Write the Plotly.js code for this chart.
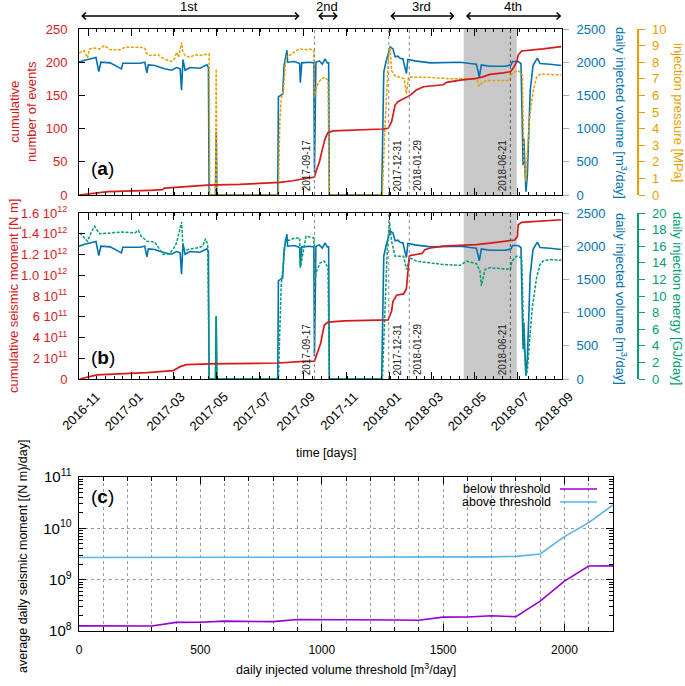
<!DOCTYPE html>
<html><head><meta charset="utf-8">
<script src="https://cdn.plot.ly/plotly-3.0.1.min.js"></script>
<style>html,body{margin:0;padding:0;background:#fff;}#chart{width:685px;height:686px;}</style>
</head><body><div id="chart"></div>
<script>
// ---------- data: daily injected volume [m3/day] ----------
const volDates = ['2016-10-19','2016-10-27','2016-11-12','2016-11-16','2016-11-19','2016-12-02','2016-12-18','2016-12-20','2017-01-13','2017-01-20','2017-01-23','2017-01-25','2017-02-03','2017-02-17','2017-02-27','2017-03-06','2017-03-11','2017-03-13','2017-03-15','2017-03-18','2017-03-25','2017-04-08','2017-04-18','2017-04-20','2017-04-21',
'2017-04-30','2017-05-01','2017-05-02',
'2017-07-27','2017-07-28','2017-08-03','2017-08-05','2017-08-09','2017-08-10','2017-08-20','2017-08-27','2017-08-28','2017-08-30','2017-09-10','2017-09-16','2017-09-17','2017-09-19','2017-09-24','2017-09-28','2017-10-02','2017-10-05','2017-10-07','2017-10-08',
'2017-12-21','2017-12-24','2017-12-27','2018-01-02','2018-01-06','2018-01-09','2018-01-13','2018-01-16','2018-01-20','2018-01-25','2018-01-27','2018-02-06','2018-02-28','2018-03-28','2018-04-11','2018-04-25','2018-05-04','2018-05-08','2018-05-11','2018-05-23','2018-06-14','2018-06-22','2018-06-24','2018-07-02','2018-07-06','2018-07-09','2018-07-10','2018-07-13','2018-07-15','2018-07-19','2018-07-23','2018-07-29','2018-08-02','2018-08-16','2018-09-01'];
const volValues = [2000,2030,2070,1860,2000,1990,1900,1985,1985,2000,1840,1960,1950,1900,1880,1920,1900,1580,2040,1880,1920,1910,1960,1920,0,
0,950,0,
0,1480,1520,1950,2180,2000,2010,1980,1690,1990,2000,1990,340,2000,2020,1970,2050,1990,1990,0,
0,1850,2000,2230,2200,2080,2090,2060,2050,1830,2040,2020,1990,1990,2000,1980,1970,1780,1960,1940,1940,1960,2010,2010,1980,450,850,50,300,1560,1950,2060,1980,1970,1950];

// ---------- injection pressure [MPa] ----------
const presDates = ['2016-10-19','2016-10-26','2016-10-31','2016-11-03','2016-11-10','2016-11-17','2016-11-24','2016-12-02','2016-12-16','2016-12-23','2017-01-13','2017-01-20','2017-01-22','2017-01-27','2017-02-08','2017-02-14','2017-02-22','2017-02-27','2017-03-03','2017-03-06','2017-03-09','2017-03-13','2017-03-15','2017-03-18','2017-03-25','2017-04-01','2017-04-08','2017-04-18','2017-04-21','2017-04-22',
'2017-04-30','2017-05-01','2017-05-02',
'2017-07-28','2017-07-30','2017-08-01','2017-08-04','2017-08-07','2017-08-09','2017-08-15','2017-08-22','2017-08-27','2017-09-05','2017-09-10','2017-09-16','2017-09-17','2017-09-20','2017-09-23','2017-09-27','2017-10-02','2017-10-06','2017-10-08',
'2017-12-22','2017-12-25','2017-12-28','2017-12-31','2018-01-02','2018-01-04','2018-01-08','2018-01-15','2018-01-22','2018-01-25','2018-01-28','2018-02-05','2018-02-20','2018-03-10','2018-03-30','2018-04-20','2018-05-05','2018-05-08','2018-05-12','2018-05-20','2018-06-05','2018-06-20','2018-06-23','2018-07-01','2018-07-05','2018-07-08','2018-07-10','2018-07-13','2018-07-15','2018-07-16','2018-07-18','2018-07-21','2018-07-24','2018-07-28','2018-08-03','2018-08-20','2018-09-01'];
const presValues = [8.55,8.7,8.25,8.8,8.85,8.8,9.0,8.75,8.75,8.9,8.9,8.85,8.55,8.4,8.45,8.25,8.1,8.05,8.2,8.6,8.3,9.2,8.6,8.4,8.3,8.45,8.4,8.5,8.5,0,
0,7.6,0,
0,4.5,5.8,6.3,8.0,8.4,8.45,8.7,8.8,8.75,8.8,8.7,5.9,6.5,6.8,7.0,7.1,6.9,0,
0,3.5,6.5,8.6,8.9,7.5,7.2,7.1,7.0,6.1,7.1,7.1,7.1,7.05,7.0,7.0,6.95,6.55,6.8,6.9,6.9,6.9,7.3,7.5,7.4,7.2,2.2,0.8,2.5,3.2,4.6,5.6,6.4,7.1,7.3,7.25,7.25];

// ---------- cumulative number of events ----------
const evtDates = ['2016-10-19','2016-11-03','2016-11-29','2017-01-27','2017-02-14','2017-02-17','2017-03-18','2017-04-19','2017-06-03','2017-07-16','2017-07-30','2017-08-17','2017-09-05','2017-09-17','2017-09-19','2017-09-24','2017-09-28','2017-10-02','2017-10-06','2017-10-13','2017-12-23','2017-12-30','2018-01-04','2018-01-09','2018-01-13','2018-01-25','2018-01-30','2018-02-08','2018-02-18','2018-03-18','2018-03-23','2018-04-11','2018-05-04','2018-05-13','2018-05-23','2018-06-11','2018-06-21','2018-06-25','2018-06-30','2018-07-02','2018-07-07','2018-08-06','2018-09-01'];
const evtValues = [0,2,5,7,8,10.5,13,15,16,18,19,21.5,25,27,35,50,68,85,94,96.5,99.4,100.4,110,135.5,140.5,148,150,158,163,166,169.7,173,175.7,178,181.7,184,185.7,190.7,200.8,210.8,216.9,220,223.4];

// ---------- daily injection energy [GJ/day] ----------
const enDates = ['2016-10-20','2016-10-31','2016-11-06','2016-11-10','2016-11-17','2016-11-29','2016-12-18','2017-01-06','2017-01-11','2017-01-15','2017-01-23','2017-02-03','2017-02-15','2017-02-24','2017-03-01','2017-03-06','2017-03-09','2017-03-13','2017-03-15','2017-03-18','2017-03-27','2017-04-05','2017-04-12','2017-04-16','2017-04-19','2017-04-21',
'2017-04-30','2017-05-01','2017-05-02',
'2017-07-28','2017-07-30','2017-08-01','2017-08-04','2017-08-07','2017-08-12','2017-08-20','2017-08-27','2017-08-28','2017-09-05','2017-09-16','2017-09-17','2017-09-20','2017-09-25','2017-10-01','2017-10-06','2017-10-08',
'2017-12-22','2017-12-26','2017-12-29','2018-01-01','2018-01-04','2018-01-09','2018-01-21','2018-01-25','2018-01-30','2018-02-08','2018-02-28','2018-03-18','2018-04-11','2018-04-20','2018-05-04','2018-05-09','2018-05-11','2018-05-16','2018-05-23','2018-06-21','2018-06-23','2018-06-30','2018-07-07','2018-07-10','2018-07-13','2018-07-15','2018-07-18','2018-07-22','2018-07-28','2018-08-02','2018-08-06','2018-08-16','2018-09-01'];
const enValues = [17.6,16.6,17.8,18.4,17.5,17.6,17.7,17.6,17.9,17.2,16.6,16.5,15.0,15.1,15.6,16.4,17.5,18.9,15.9,15.5,15.7,15.8,16.0,16.9,16.2,0,
0,7.5,0,
0,6.0,11.4,13.8,16.8,16.7,17.0,17.0,13.4,17.2,17.0,11.8,13.0,14.0,14.2,13.4,0,
0,8.6,15.8,19.0,16.6,14.8,14.8,13.2,14.6,14.2,14.0,13.8,13.7,14.2,13.9,13.0,11.2,13.2,13.4,13.2,14.2,14.8,14.6,4.5,0.5,1.0,4.5,8.6,12.2,13.8,14.2,14.4,14.3];

// ---------- cumulative seismic moment [N m] ----------
const momDates = ['2016-10-20','2016-11-13','2017-01-23','2017-02-15','2017-03-01','2017-03-11','2017-03-20','2017-04-22','2017-07-28','2017-08-27','2017-09-17','2017-09-21','2017-09-26','2017-09-28','2017-10-01','2017-10-06','2017-10-30','2017-12-30','2018-01-04','2018-01-06','2018-01-11','2018-01-21','2018-01-25','2018-01-29','2018-01-30','2018-02-08','2018-02-16','2018-02-20','2018-02-28','2018-03-18','2018-05-04','2018-05-23','2018-06-21','2018-06-27','2018-07-01','2018-07-02','2018-07-07','2018-08-06','2018-09-01'];
const momValues = [0,0.39e11,0.61e11,0.75e11,0.8e11,1.19e11,1.38e11,1.45e11,1.54e11,1.67e11,1.73e11,2.5e11,3.5e11,4.27e11,5.2e11,5.49e11,5.6e11,5.69e11,6.52e11,7.49e11,8.07e11,8.2e11,8.7e11,1.183e12,1.19e12,1.2e12,1.21e12,1.246e12,1.263e12,1.28e12,1.295e12,1.31e12,1.333e12,1.34e12,1.375e12,1.487e12,1.51e12,1.52e12,1.535e12];
const momTickVals = [0,2e11,4e11,6e11,8e11,1e12,1.2e12,1.4e12,1.6e12];
const momTickText = ['0','2 10<sup>11</sup>','4 10<sup>11</sup>','6 10<sup>11</sup>','8 10<sup>11</sup>','1.0 10<sup>12</sup>','1.2 10<sup>12</sup>','1.4 10<sup>12</sup>','1.6 10<sup>12</sup>'];

// ---------- panel (c) ----------
const thr = [0,100,200,300,400,500,600,700,800,900,1000,1100,1200,1300,1400,1500,1600,1700,1800,1900,2000,2100,2200];
const below = [1.26e8,1.26e8,1.25e8,1.25e8,1.47e8,1.48e8,1.56e8,1.55e8,1.52e8,1.68e8,1.68e8,1.66e8,1.65e8,1.64e8,1.62e8,1.86e8,1.87e8,1.98e8,1.9e8,3.83e8,9.4e8,1.84e9,1.86e9];
const above = [2.70e9,2.70e9,2.70e9,2.70e9,2.70e9,2.70e9,2.70e9,2.70e9,2.70e9,2.70e9,2.70e9,2.72e9,2.72e9,2.72e9,2.72e9,2.75e9,2.77e9,2.78e9,2.84e9,3.16e9,6.9e9,1.29e10,2.85e10];
const seriesNames = ['below threshold','above threshold'];

// ---------- annotations data ----------
const periodLabels = ['1st','2nd','3rd','4th'];
const periodStart = ['2016-10-20','2017-09-20','2017-12-31','2018-04-17'];
const periodEnd = ['2017-08-27','2017-10-20','2018-04-03','2018-09-01'];
const markDates = ['2017-09-17','2017-12-31','2018-01-29','2018-06-21'];
const markSide = ['left','right','right','left'];
const shadeStart = '2018-04-16', shadeEnd = '2018-06-30';

// ---------- styling ----------
const FONT = 'Liberation Sans, Arial, Helvetica, sans-serif';
const RED = '#D7191C', BLUE = '#0072B2', ORANGE = '#E69F00', GREEN = '#009E73', PURPLE = '#9400D3', SKY = '#56B4E9';
const L = 79, R = 637, T = 29, B = 631;
const px = x => (x - L) / (R - L);
const py = y => (B - y) / (B - T);
const dayMs = 86400000;

const traces = [
  {x: volDates, y: volValues, xaxis: 'x2', yaxis: 'y', mode: 'lines', line: {color: BLUE, width: 1.6}},
  {x: presDates, y: presValues, xaxis: 'x2', yaxis: 'y2', mode: 'lines', line: {color: ORANGE, width: 1.5, dash: '3px,1.5px'}},
  {x: evtDates, y: evtValues, xaxis: 'x2', yaxis: 'y3', mode: 'lines', line: {color: RED, width: 1.7}},
  {x: volDates, y: volValues, xaxis: 'x', yaxis: 'y4', mode: 'lines', line: {color: BLUE, width: 1.6}},
  {x: enDates, y: enValues, xaxis: 'x', yaxis: 'y5', mode: 'lines', line: {color: GREEN, width: 1.5, dash: '3px,1.5px'}},
  {x: momDates, y: momValues, xaxis: 'x', yaxis: 'y6', mode: 'lines', line: {color: RED, width: 1.7}},
  {x: thr, y: below, xaxis: 'x3', yaxis: 'y7', mode: 'lines', name: seriesNames[0], line: {color: PURPLE, width: 1.6}},
  {x: thr, y: above, xaxis: 'x3', yaxis: 'y7', mode: 'lines', name: seriesNames[1], line: {color: SKY, width: 1.6}}
];

const timeCommon = {
  type: 'date', range: ['2016-10-19', '2018-09-02'], domain: [0, px(562)],
  dtick: 'M2', tick0: '2016-11-01', ticks: 'inside', ticklen: 7, tickcolor: '#000',
  showline: true, linecolor: '#000', linewidth: 1, mirror: 'ticks', showgrid: false, zeroline: false,
  minor: {ticks: 'inside', ticklen: 3, tickcolor: '#000', dtick: 12.2 * dayMs, tick0: '2016-11-01'}
};
const dA = [py(195), py(29)], dB = [py(379), py(213)], dC = [0, py(477)];
const tf = (c, s) => ({color: c, size: s || 13, family: FONT});

const layout = {
  width: 685, height: 686, showlegend: false,
  margin: {l: L, r: 685 - R, t: T, b: 686 - B},
  paper_bgcolor: '#fff', plot_bgcolor: 'rgba(0,0,0,0)',
  font: {family: FONT, size: 13, color: '#000'},
  xaxis: Object.assign({}, timeCommon, {anchor: 'y4', tickformat: '%Y-%m', tickangle: -45, tickfont: tf('#000', 13),
    ticklabelshift: 8, ticklabelstandoff: 4}),
  xaxis2: Object.assign({}, timeCommon, {anchor: 'y', matches: 'x', showticklabels: false}),
  yaxis: {domain: dA, anchor: 'x2', side: 'right', range: [0, 2500], dtick: 500, ticks: 'outside', ticklen: 6, tickcolor: '#7fb3d5',
          tickfont: tf(BLUE), showgrid: false, zeroline: false, showline: false, ticklabelstandoff: 5},
  yaxis2: {overlaying: 'y', side: 'right', anchor: 'free', position: 1, range: [0, 10], dtick: 1, ticks: 'outside', ticklen: 6,
           tickcolor: ORANGE, showline: true, linecolor: ORANGE, linewidth: 1.5, tickfont: tf(ORANGE), showgrid: false, zeroline: false, ticklabelstandoff: 5},
  yaxis3: {overlaying: 'y', side: 'left', anchor: 'x2', range: [0, 250], dtick: 50, ticks: 'inside', ticklen: 6, tickcolor: '#000',
           showline: true, mirror: true, linecolor: '#000', tickfont: tf(RED), showgrid: false, zeroline: false, ticklabelstandoff: 8},
  yaxis4: {domain: dB, anchor: 'x', side: 'right', range: [0, 2500], dtick: 500, ticks: 'outside', ticklen: 6, tickcolor: '#7fb3d5',
           tickfont: tf(BLUE), showgrid: false, zeroline: false, showline: false, ticklabelstandoff: 5},
  yaxis5: {overlaying: 'y4', side: 'right', anchor: 'free', position: 1, range: [0, 20], dtick: 2, ticks: 'outside', ticklen: 6,
           tickcolor: GREEN, showline: true, linecolor: GREEN, linewidth: 1.5, tickfont: tf(GREEN), showgrid: false, zeroline: false, ticklabelstandoff: 5},
  yaxis6: {overlaying: 'y4', side: 'left', anchor: 'x', range: [0, 1.6e12], tickvals: momTickVals, ticktext: momTickText, ticks: 'inside', ticklen: 6,
           tickcolor: '#000', showline: true, mirror: true, linecolor: '#000', tickfont: tf(RED), showgrid: false, zeroline: false, ticklabelstandoff: 8},
  xaxis3: {domain: [0, px(613)], anchor: 'y7', range: [0, 2200], dtick: 500, ticks: 'inside', ticklen: 7, tickcolor: '#000',
           showline: true, mirror: 'allticks', linecolor: '#000', showgrid: true, gridcolor: '#9a9a9a', griddash: 'dot', zeroline: false,
           tickfont: tf('#000', 12), ticklabelstandoff: 8,
           minor: {dtick: 100, ticks: 'inside', ticklen: 4, tickcolor: '#000', showgrid: true, gridcolor: '#9a9a9a', griddash: 'dot'}},
  yaxis7: {type: 'log', domain: dC, anchor: 'x3', range: [8, 11], dtick: 1, exponentformat: 'power', ticks: 'inside', ticklen: 7, tickcolor: '#000',
           showline: true, mirror: 'allticks', linecolor: '#000', showgrid: true, gridcolor: '#9a9a9a', griddash: 'dot', zeroline: false,
           tickfont: tf('#000', 12), ticklabelstandoff: 4,
           minor: {dtick: 'D1', ticks: 'inside', ticklen: 4, tickcolor: '#000', showgrid: false}},
  shapes: [], annotations: []
};

// shaded period and marker lines in panels (a) and (b)
[['x2', 'y domain'], ['x', 'y4 domain']].forEach(([xr, yr]) => {
  layout.shapes.push({type: 'rect', xref: xr, yref: yr, x0: shadeStart, x1: shadeEnd, y0: 0, y1: 1, fillcolor: '#c8c8c8', line: {width: 0}, layer: 'below'});
  markDates.forEach((d, i) => {
    layout.shapes.push({type: 'line', xref: xr, yref: yr, x0: d, x1: d, y0: 0, y1: 1, line: {color: i === 3 ? '#555' : '#888', width: 1, dash: 'dot'}, layer: 'above'});
    layout.annotations.push({xref: xr, yref: yr, x: d, y: 0.01, text: d, textangle: -90, showarrow: false,
      xanchor: markSide[i] === 'left' ? 'right' : 'left', yanchor: 'bottom', xshift: markSide[i] === 'left' ? -1 : 1,
      font: {size: 10, color: '#222', family: FONT}});
  });
});

// period arrows
periodLabels.forEach((lab, i) => {
  layout.annotations.push({xref: 'x2', yref: 'paper', x: periodEnd[i], y: py(16), axref: 'x2', ax: periodStart[i], ayref: 'pixel', ay: 0,
    text: '', showarrow: true, arrowside: 'end+start', arrowhead: 4, startarrowhead: 4, arrowsize: 0.85, startarrowsize: 0.85, arrowwidth: 1.6, arrowcolor: '#000'});
  const mid = new Date((new Date(periodStart[i]).getTime() + new Date(periodEnd[i]).getTime()) / 2).toISOString().slice(0, 10);
  layout.annotations.push({xref: 'x2', yref: 'paper', x: mid, y: py(16), yanchor: 'bottom', text: lab, showarrow: false, font: {size: 13, family: FONT}});
});

// axis titles and panel letters
const ann = (x, y, text, color, angle, size) => layout.annotations.push({xref: 'paper', yref: 'paper', x: px(x), y: py(y), text: text,
  textangle: angle || 0, showarrow: false, font: {size: size || 13, color: color || '#000', family: FONT}, xanchor: 'center', yanchor: 'middle'});
ann(23, 112, 'cumulative<br>number of events', RED, -90);
ann(13, 296, 'cumulative seismic moment [N m]', RED, -90);
ann(621, 113, 'daily injected volume [m<sup>3</sup>/day]', BLUE, 90);
ann(621, 299, 'daily injected volume [m<sup>3</sup>/day]', BLUE, 90);
ann(678, 112, 'injection pressure [MPa]', ORANGE, 90);
ann(678, 298, 'daily injection energy [GJ/day]', GREEN, 90);
ann(326, 453, 'time [days]', '#000', 0, 12.5);
ann(346, 669, 'daily injected volume threshold [m<sup>3</sup>/day]', '#000', 0, 12.5);
ann(23, 557, 'average daily seismic moment [(N m)/day]', '#000', -90, 12.5);
ann(102, 168, '(<b>a</b>)', '#000', 0, 19);
ann(103, 357, '(<b>b</b>)', '#000', 0, 19);
ann(102, 496, '(<b>c</b>)', '#000', 0, 19);

// legend of panel (c), sample line to the right of text (as in the original)
[PURPLE, SKY].forEach((c, i) => {
  const yy = 489 + i * 13;
  layout.shapes.push({type: 'line', xref: 'paper', yref: 'paper', x0: px(560), x1: px(597), y0: py(yy), y1: py(yy), line: {color: c, width: 1.6}});
  layout.annotations.push({xref: 'paper', yref: 'paper', x: px(553), y: py(yy), text: seriesNames[i], showarrow: false,
    xanchor: 'right', yanchor: 'middle', font: {size: 12.5, family: FONT}});
});

Plotly.newPlot('chart', traces, layout, {displayModeBar: false, staticPlot: true});
</script></body></html>
